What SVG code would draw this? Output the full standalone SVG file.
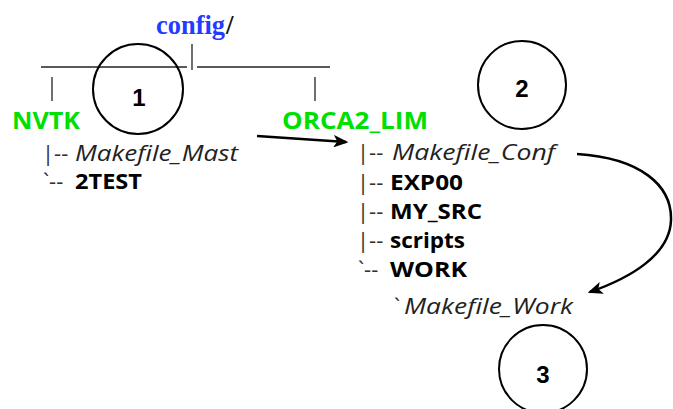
<svg xmlns="http://www.w3.org/2000/svg" width="673" height="409" viewBox="0 0 673 409">
  <style>
    text { font-family: "Open Sans", "Liberation Sans", sans-serif; font-size: 22px; fill: #111; }
    .root { font-family: "Liberation Serif", serif; font-weight: bold; font-size: 27px; }
    .dir { fill: #00e000; font-weight: bold; font-size: 24px; }
    .pre { fill: #333; font-size: 22px; }
    .file { font-style: italic; fill: #222; }
    .sub { font-weight: bold; fill: #000; }
    .num { font-family: "Liberation Sans", sans-serif; font-weight: bold; font-size: 24px; fill: #000; text-anchor: middle; }
    .rule { stroke: #222; stroke-width: 1.3; fill: none; }
    .badge { fill: none; stroke: #000; stroke-width: 2; }
    .link { fill: none; stroke: #000; stroke-width: 2.5; }
  </style>
  <defs>
    <marker id="head" viewBox="0 0 12 10" refX="10" refY="5" markerWidth="6" markerHeight="5" orient="auto" markerUnits="strokeWidth">
      <path d="M0,0 L12,5 L0,10 L3,5 Z" fill="#000"/>
    </marker>
  </defs>

  <!-- root directory and its branch rules -->
  <g id="config">
    <text class="root" x="156" y="34" fill="#1f3cff" style="fill:#1f3cff" textLength="69" lengthAdjust="spacingAndGlyphs">config</text>
    <text class="root" x="226" y="34">/</text>
    <line class="rule" x1="192" y1="44" x2="192" y2="70"/>
    <line class="rule" x1="41" y1="67" x2="187" y2="67"/>
    <line class="rule" x1="197" y1="67" x2="330" y2="67"/>
    <line class="rule" x1="52" y1="77" x2="52" y2="101"/>
    <line class="rule" x1="315" y1="77" x2="315" y2="101"/>
  </g>

  <!-- NVTK subtree -->
  <g id="nvtk">
    <text class="dir" x="12" y="129" textLength="68" lengthAdjust="spacingAndGlyphs">NVTK</text>
    <text class="pre" x="42" y="161">|--</text>
    <text class="file" x="75" y="161" textLength="163" lengthAdjust="spacingAndGlyphs">Makefile_Mast</text>
    <text class="pre" x="43" y="189">`--</text>
    <text class="sub" x="75" y="189" textLength="67" lengthAdjust="spacingAndGlyphs">2TEST</text>
  </g>

  <!-- ORCA2_LIM subtree -->
  <g id="orca2_lim">
    <text class="dir" x="282" y="129" textLength="146" lengthAdjust="spacingAndGlyphs">ORCA2_LIM</text>
    <text class="pre" x="357" y="160">|--</text>
    <text class="file" x="392" y="160" textLength="163" lengthAdjust="spacingAndGlyphs">Makefile_Conf</text>
    <text class="pre" x="357" y="190">|--</text>
    <text class="sub" x="390" y="190" textLength="73" lengthAdjust="spacingAndGlyphs">EXP00</text>
    <text class="pre" x="357" y="219">|--</text>
    <text class="sub" x="390" y="219" textLength="92" lengthAdjust="spacingAndGlyphs">MY_SRC</text>
    <text class="pre" x="357" y="248">|--</text>
    <text class="sub" x="390" y="248" textLength="75" lengthAdjust="spacingAndGlyphs">scripts</text>
    <text class="pre" x="358" y="277">`--</text>
    <text class="sub" x="390" y="277" textLength="77" lengthAdjust="spacingAndGlyphs">WORK</text>
    <text class="pre" x="394" y="314">`</text>
    <text class="file" x="404" y="314" textLength="169" lengthAdjust="spacingAndGlyphs">Makefile_Work</text>
  </g>

  <!-- numbered badges -->
  <g id="badge1">
    <circle class="badge" cx="138" cy="89" r="45"/>
    <text class="num" x="139" y="106">1</text>
  </g>
  <g id="badge2">
    <circle class="badge" cx="522" cy="85" r="44"/>
    <text class="num" x="522" y="97">2</text>
  </g>
  <g id="badge3">
    <circle class="badge" cx="543" cy="369" r="44"/>
    <text class="num" x="543" y="383">3</text>
  </g>

  <!-- connectors -->
  <g id="connectors">
    <path class="link" d="M257,136 L346,142" marker-end="url(#head)"/>
    <path class="link" d="M577,154 C640,158 672,185 671,220 C670,255 630,278 590,292" marker-end="url(#head)"/>
  </g>
</svg>
